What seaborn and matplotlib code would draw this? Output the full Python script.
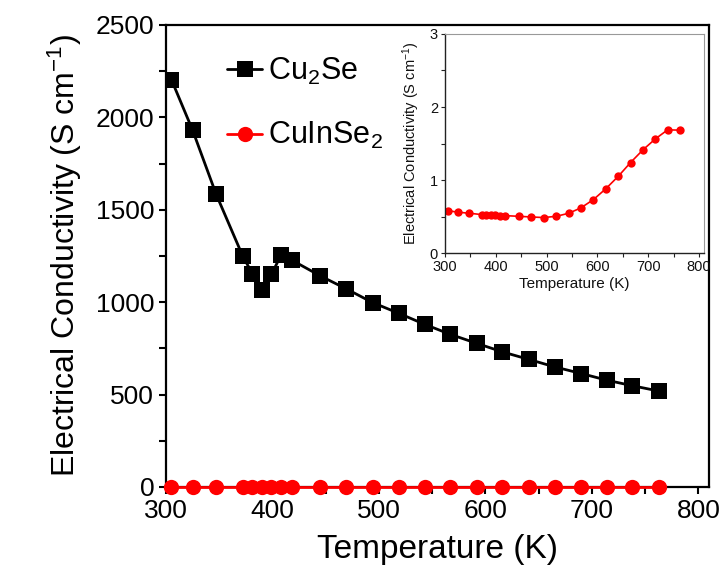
import numpy as np
import pandas as pd
import matplotlib
matplotlib.use("Agg")
import matplotlib.pyplot as plt
import seaborn as sns
from matplotlib.ticker import MultipleLocator

# temperatures (K), shared by both samples
temperature = [305, 325, 347, 372, 381, 390, 399, 408, 418, 445, 469, 494,
               519, 543, 567, 592, 616, 641, 665, 690, 714, 738, 763]

# electrical conductivity (S cm-1)
cu2se = [2205, 1930, 1585, 1250, 1155, 1065, 1150, 1255, 1228, 1142, 1073, 998,
         939, 880, 826, 777, 731, 690, 650, 614, 578, 548, 519]
cuinse2 = [0.58, 0.56, 0.545, 0.527, 0.522, 0.518, 0.517, 0.513, 0.512, 0.503, 0.494, 0.486,
           0.503, 0.544, 0.617, 0.732, 0.878, 1.052, 1.239, 1.417, 1.564, 1.687, 1.683]

label_cu2se = "Cu$_2$Se"
label_cuinse2 = "CuInSe$_2$"

sns.set_style("ticks")
plt.rcParams["font.family"] = ["Liberation Sans", "DejaVu Sans"]
plt.rcParams["mathtext.default"] = "regular"
for key in ["text.color", "axes.labelcolor", "xtick.color", "ytick.color", "axes.edgecolor"]:
    plt.rcParams[key] = "black"

df = pd.DataFrame({"T": temperature, "Cu2Se": cu2se, "CuInSe2": cuinse2})

fig = plt.figure(figsize=(7.26, 5.81), dpi=100)
ax = fig.add_axes([0.2287, 0.1618, 0.7479, 0.7952])

sns.lineplot(data=df, x="T", y="Cu2Se", ax=ax, color="black", marker="s",
             markersize=11, linewidth=2, markeredgewidth=0, label=label_cu2se)
sns.lineplot(data=df, x="T", y=df["CuInSe2"] * 0, ax=ax, color="#ff0000", marker="o",
             markersize=11, linewidth=2, markeredgewidth=0, label=label_cuinse2,
             clip_on=False, zorder=5)

ax.set_xlim(300, 810)
ax.set_ylim(0, 2500)
ax.xaxis.set_major_locator(MultipleLocator(100))
ax.xaxis.set_minor_locator(MultipleLocator(50))
ax.yaxis.set_major_locator(MultipleLocator(500))
ax.yaxis.set_minor_locator(MultipleLocator(250))
ax.tick_params(which="both", direction="out", length=5, width=1.5, labelsize=19,
               top=False, right=False, color="black")
for s in ax.spines.values():
    s.set_linewidth(1.6)
    s.set_color("black")
ax.set_xlabel("Temperature (K)", fontsize=24, labelpad=8)
ax.set_ylabel("Electrical Conductivity (S cm$^{-1}$)", fontsize=23, labelpad=8)

leg = ax.legend(loc="upper left", bbox_to_anchor=(0.09, 0.96), frameon=False,
                fontsize=22, handlelength=1.15, handletextpad=0.2, labelspacing=1.1,
                borderaxespad=0)

# inset with CuInSe2 on its own scale
axin = fig.add_axes([0.613, 0.5645, 0.357, 0.377])
sns.lineplot(data=df, x="T", y="CuInSe2", ax=axin, color="#ff0000", marker="o",
             markersize=6, linewidth=1.2, markeredgewidth=0, legend=False)
axin.set_xlim(300, 810)
axin.set_ylim(0, 3)
axin.xaxis.set_major_locator(MultipleLocator(100))
axin.xaxis.set_minor_locator(MultipleLocator(50))
axin.yaxis.set_major_locator(MultipleLocator(1))
axin.yaxis.set_minor_locator(MultipleLocator(0.5))
axin.tick_params(which="both", direction="out", length=3, width=0.8, labelsize=10.5,
                 color="#222222", labelcolor="#111111", pad=2)
for side in ["left", "bottom"]:
    axin.spines[side].set_color("#222222")
    axin.spines[side].set_linewidth(1.0)
for side in ["top", "right"]:
    axin.spines[side].set_color("#999999")
    axin.spines[side].set_linewidth(0.8)
axin.set_xlabel("Temperature (K)", fontsize=11, color="#111111", labelpad=2)
axin.set_ylabel("Electrical Conductivity (S cm$^{-1}$)", fontsize=10.5, color="#111111", labelpad=6)

fig.savefig("out.png", dpi=100)
